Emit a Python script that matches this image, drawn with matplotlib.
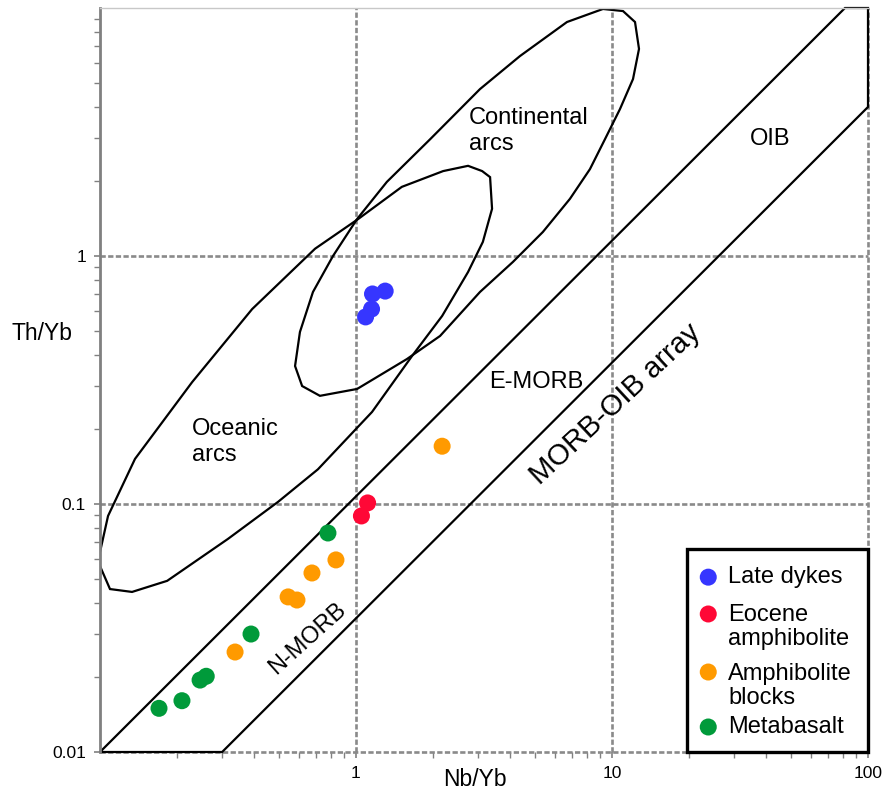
import matplotlib
matplotlib.use('Agg')
import matplotlib.pyplot as plt
from matplotlib.patches import Polygon, Rectangle
from matplotlib.ticker import FixedLocator, LogLocator, NullFormatter

plt.rcParams['font.family'] = ['Liberation Sans', 'DejaVu Sans']

# sample data (Nb/Yb, Th/Yb)
late_x = [1.09, 1.15, 1.16, 1.30]
late_y = [0.568, 0.611, 0.703, 0.722]
eocene_x = [1.05, 1.11]
eocene_y = [0.0895, 0.101]
amph_x = [0.337, 0.543, 0.588, 0.673, 0.835, 2.17]
amph_y = [0.0253, 0.0422, 0.041, 0.0527, 0.0595, 0.171]
meta_x = [0.170, 0.209, 0.246, 0.260, 0.389, 0.777]
meta_y = [0.0150, 0.0161, 0.0195, 0.0202, 0.0299, 0.0764]

# field outlines
cont_x = [9.22, 11.04, 12.3, 12.75, 12.08, 10.74, 9.39, 8.20, 6.85, 5.37, 4.10, 3.05,
          2.13, 1.58, 1.01, 0.723, 0.616, 0.578, 0.604, 0.679, 0.813, 1.01, 1.32, 1.95,
          3.05, 4.37, 6.67]
cont_y = [9.91, 9.72, 8.78, 6.84, 5.17, 3.91, 2.96, 2.24, 1.70, 1.25, 0.946, 0.716,
          0.476, 0.384, 0.291, 0.273, 0.299, 0.360, 0.494, 0.716, 1.0, 1.41, 1.99, 2.96,
          4.71, 6.40, 8.78]
ocean_x = [2.74, 2.19, 1.51, 1.02, 0.692, 0.393, 0.229, 0.137, 0.1075, 0.100, 0.0973,
           0.100, 0.1094, 0.1334, 0.183, 0.316, 0.496, 0.71, 1.155, 1.655, 2.17, 2.74,
           3.13, 3.40, 3.34, 3.11]
ocean_y = [2.31, 2.20, 1.90, 1.41, 1.07, 0.611, 0.310, 0.152, 0.0895, 0.064, 0.060,
           0.0562, 0.0454, 0.0442, 0.049, 0.0723, 0.102, 0.138, 0.235, 0.395, 0.573, 0.862,
           1.14, 1.55, 2.08, 2.20]
array_x = [0.1, 81.3, 100, 100, 0.30]
array_y = [0.01, 10, 10, 3.99, 0.01]

legend_names = ['Late dykes', 'Eocene\namphibolite', 'Amphibolite\nblocks', 'Metabasalt']
colors = ['#3636FF', '#FF0836', '#FF9A00', '#009A3A']

fig = plt.figure(figsize=(8.85, 7.96), dpi=100)
ax = fig.add_axes([100/885, 1-752/796, 768/885, 744/796])
ax.set_xscale('log')
ax.set_yscale('log')
ax.set_xlim(0.1, 100)
ax.set_ylim(0.01, 10)

ax.xaxis.set_major_locator(FixedLocator([1, 10, 100]))
ax.yaxis.set_major_locator(FixedLocator([0.01, 0.1, 1]))
ax.set_xticklabels(['1', '10', '100'])
ax.set_yticklabels(['0.01', '0.1', '1'])
for a in (ax.xaxis, ax.yaxis):
    a.set_minor_locator(LogLocator(base=10, subs=range(2, 10)))
    a.set_minor_formatter(NullFormatter())
ax.tick_params(which='both', direction='out', color='#808080', labelsize=12.5,
               top=False, right=False)
ax.tick_params(which='major', length=4, width=1.2, pad=6)
ax.tick_params(which='minor', length=4, width=1)

ax.grid(True, which='major', color='#8a8a8a', linestyle=(0, (2, 0.9)), linewidth=1.9)
ax.set_axisbelow(True)
for gl in ax.get_xgridlines() + ax.get_ygridlines():
    gl.set_clip_on(False)
ax.spines['left'].set_color('#808080')
ax.spines['left'].set_linewidth(2)
ax.spines['top'].set_color('#c8c8c8')
ax.spines['top'].set_linewidth(1)
ax.spines['right'].set_visible(False)
ax.spines['bottom'].set_visible(False)

# fields
ax.add_patch(Polygon(list(zip(array_x, array_y)), closed=True, fill=False,
                     edgecolor='black', linewidth=1.6, clip_on=False, zorder=2))
ax.add_patch(Polygon(list(zip(ocean_x, ocean_y)), closed=True, fill=False,
                     edgecolor='black', linewidth=1.6, zorder=2))
ax.add_patch(Polygon(list(zip(cont_x, cont_y)), closed=True, fill=False,
                     edgecolor='black', linewidth=1.6, zorder=2))

# samples
groups = [(late_x, late_y), (eocene_x, eocene_y), (amph_x, amph_y), (meta_x, meta_y)]
for (gx, gy), c in zip(groups, colors):
    ax.scatter(gx, gy, s=150, color=c, edgecolors='none', zorder=3)

# field labels
ax.text(2.76, 3.19, 'Continental\narcs', fontsize=17, ha='left', va='center')
ax.text(0.229, 0.178, 'Oceanic\narcs', fontsize=17, ha='left', va='center')
ax.text(41.4, 2.96, 'OIB', fontsize=17, ha='center', va='center')
ax.text(5.05, 0.31, 'E-MORB', fontsize=17, ha='center', va='center')
ax.text(0.644, 0.0286, 'N-MORB', fontsize=17, ha='center', va='center',
        rotation=42, rotation_mode='anchor')
ax.text(10.3, 0.253, 'MORB-OIB array', fontsize=21, ha='center', va='center',
        rotation=43, rotation_mode='anchor')

# axis labels
fig.text(42/885, 1-333/796, 'Th/Yb', fontsize=16.5, ha='center', va='center')
fig.text(475/885, 1-780/796, 'Nb/Yb', fontsize=16.5, ha='center', va='center')

# legend box
ax.add_patch(Rectangle((0.764, 0.0), 0.236, 0.273, transform=ax.transAxes,
                       facecolor='white', edgecolor='black', linewidth=2.4,
                       clip_on=False, zorder=5))
marker_y = [0.235, 0.1855, 0.1075, 0.0336]
text_y = [0.235, 0.168, 0.089, 0.0336]
for name, c, my, ty in zip(legend_names, colors, marker_y, text_y):
    ax.scatter([0.792], [my], s=150, color=c, edgecolors='none',
               transform=ax.transAxes, clip_on=False, zorder=6)
    ax.text(0.818, ty, name, fontsize=17, ha='left', va='center', linespacing=1.12,
            transform=ax.transAxes, zorder=6)

fig.savefig('out.png', dpi=100)
